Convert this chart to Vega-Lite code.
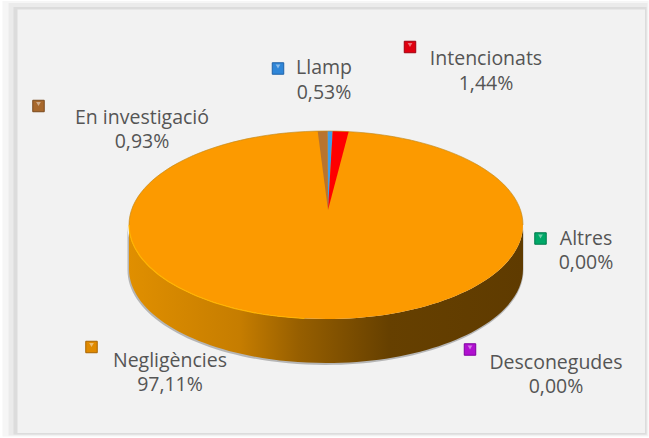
{
"$schema":"https://vega.github.io/schema/vega-lite/v6.json",
"width":649,"height":438,"padding":0,"autosize":{"type":"none"},
"background":"#ffffff",
"config":{"view":{"stroke":null},"locale":{"number":{"decimal":",","thousands":".","grouping":[3],"currency":["","€"]}}},
"data":{"values":[
{"Sector":"Negligències","Percent":0.9711,"Ordre":2},
{"Sector":"En investigació","Percent":0.0093,"Ordre":1},
{"Sector":"Llamp","Percent":0.0053,"Ordre":3},
{"Sector":"Intencionats","Percent":0.0144,"Ordre":4},
{"Sector":"Desconegudes","Percent":0.0,"Ordre":5},
{"Sector":"Altres","Percent":0.0,"Ordre":6}
]},
"resolve":{"scale":{"x":"independent","y":"independent","color":"independent","shape":"independent","stroke":"independent"}},
"layer":[
{"data":{"values":[{"Banda":"a"},{"Banda":"b"},{"Banda":"c"},{"Banda":"d"},{"Banda":"e"}]},
 "mark":{"type":"point","filled":true,"size":4,"opacity":1},
 "encoding":{
  "shape":{"field":"Banda","type":"nominal","legend":null,"scale":{"domain":["a","b","c","d","e"],"range":[
   "M-324.5,-219H324.5V219H-324.5Z",
   "M-322,-218H324V217.5H-322Z",
   "M-316,-216H323V216.5H-316Z",
   "M-311,-212H322V215.5H-311Z",
   "M-307,-209.5H320.5V214H-307Z"]}},
  "color":{"field":"Banda","type":"nominal","legend":null,"scale":{"domain":["a","b","c","d","e"],"range":["#ffffff","#f6f6f6","#ebebeb","#dcdcdc","#f2f2f2"]}}
 }},
{"transform":[{"filter":"datum.Sector=='Negligències'"}],
 "mark":{"type":"point","filled":true,"size":4,"opacity":0.5,"color":"#7a7a7a",
  "shape":"M-197,7A197,94 0 0 0 199,7L199,51A197,94.5 0 0 1 -197,51Z"}},
{"transform":[{"filter":"datum.Sector=='Negligències'"}],
 "mark":{"type":"point","filled":true,"size":4,"opacity":1,
  "fill":{"gradient":"linear","x1":0,"x2":1,"y1":0,"y2":0,"stops":[
   {"offset":0,"color":"#e08f00"},{"offset":0.28,"color":"#c67d00"},{"offset":0.43,"color":"#975f00"},{"offset":0.66,"color":"#664000"},{"offset":1,"color":"#5f3b00"}]},
  "shape":"M-195.5,6A197,94 0 0 0 198.5,6L198.5,50A197,94 0 0 1 -195.5,50Z"}},
{"mark":{"type":"point","filled":true,"size":4,"opacity":1},
 "encoding":{
  "shape":{"field":"Sector","type":"nominal","legend":null,"scale":{
   "domain":["Negligències","En investigació","Llamp","Intencionats","Desconegudes","Altres"],
   "range":[
    "M-195.5,6A197,94 0 0 1 198.5,6A197,94 0 0 1 -195.5,6Z",
    "M3.5,-9L-6.8,-87.8L3.2,-88Z",
    "M3.5,-9L3.2,-88L8.2,-88Z",
    "M3.5,-9L8.2,-88L24.2,-87.4Z",
    "M3.5,-9Z","M3.5,-9Z"]}},
  "color":{"field":"Sector","type":"nominal","legend":null,"scale":{
   "domain":["Negligències","En investigació","Llamp","Intencionats","Desconegudes","Altres"],
   "range":["#fc9a00","#b8742f","#3f9fe8","#ff0000","#c000e0","#00b070"]}}
 }},
{"transform":[{"filter":"datum.Sector=='Negligències'"}],
 "mark":{"type":"point","filled":false,"size":4,"opacity":0.8,"stroke":"#c08a20","strokeWidth":0.8,
  "shape":"M-195.5,6A197,94 0 0 1 198.5,6"}},
{"transform":[{"filter":"datum.Sector=='Negligències'"}],
 "mark":{"type":"point","filled":false,"size":4,"opacity":1,"stroke":"#ffb400","strokeWidth":1.2,
  "shape":"M-195.5,6A197,94 0 0 0 -20,99.5"}},
{"mark":{"type":"point","shape":"square","filled":true,"size":132,"opacity":1,"strokeWidth":1},
 "encoding":{
  "x":{"field":"Ordre","type":"quantitative","axis":null,"scale":{"domain":[1,2,3,4,5,6],"range":[38.5,91.5,278,410,470,540.5]}},
  "y":{"field":"Ordre","type":"quantitative","axis":null,"scale":{"domain":[1,2,3,4,5,6],"range":[106,347,68.5,47,349.5,238.5]}},
  "color":{"field":"Sector","type":"nominal","legend":null,"scale":{
   "domain":["Negligències","En investigació","Llamp","Intencionats","Desconegudes","Altres"],
   "range":["#e08a00","#a8682c","#2f86d8","#e00010","#b010d0","#00a868"]}},
  "stroke":{"field":"Sector","type":"nominal","legend":null,"scale":{
   "domain":["Negligències","En investigació","Llamp","Intencionats","Desconegudes","Altres"],
   "range":["#a86400","#7a4a1e","#1f62a8","#a00010","#8000a0","#007a4c"]}}
 }},
{"mark":{"type":"point","shape":"triangle-down","filled":true,"size":22,"opacity":0.45,"color":"#ffffff"},
 "encoding":{
  "x":{"field":"Ordre","type":"quantitative","axis":null,"scale":{"domain":[1,2,3,4,5,6],"range":[38.5,91.5,278,410,470,540.5]}},
  "y":{"field":"Ordre","type":"quantitative","axis":null,"scale":{"domain":[1,2,3,4,5,6],"range":[104,345,66.5,45,347.5,236.5]}}
 }},
{"mark":{"type":"text","font":"Open Sans","fontSize":19.5,"color":"#555555","align":"center","baseline":"middle"},
 "encoding":{
  "text":{"field":"Sector","type":"nominal"},
  "x":{"field":"Ordre","type":"quantitative","axis":null,"scale":{"domain":[1,2,3,4,5,6],"range":[142,170,324,486,556,586]}},
  "y":{"field":"Ordre","type":"quantitative","axis":null,"scale":{"domain":[1,2,3,4,5,6],"range":[118,361,68,59,363,239]}}
 }},
{"mark":{"type":"text","font":"Open Sans","fontSize":19.5,"color":"#555555","align":"center","baseline":"middle"},
 "encoding":{
  "text":{"field":"Percent","type":"quantitative","format":".2%"},
  "x":{"field":"Ordre","type":"quantitative","axis":null,"scale":{"domain":[1,2,3,4,5,6],"range":[142,170,324,486,556,586]}},
  "y":{"field":"Ordre","type":"quantitative","axis":null,"scale":{"domain":[1,2,3,4,5,6],"range":[142,385,93,84,387,263]}}
 }}
]
}
